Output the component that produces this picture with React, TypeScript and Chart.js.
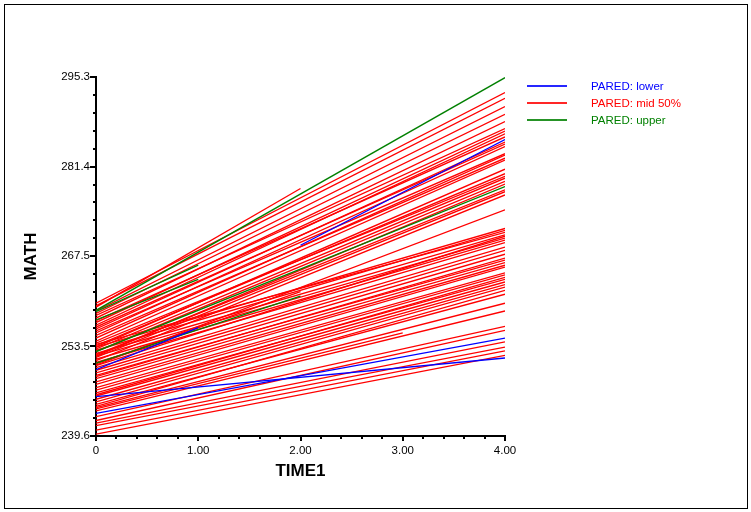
import React, { useEffect, useRef } from "react";
import { Chart, registerables } from "chart.js";

Chart.register(...registerables);

// Each trajectory: [startTime, startMath, endTime, endMath]
type Segment = [number, number, number, number];

const redLines: Segment[] = [
  // steep upper band
  [0, 260.2, 4, 292.9],
  [0, 259.8, 4, 292.0],
  [0, 259.0, 4, 290.7],
  [0, 258.6, 4, 289.5],
  [0, 257.9, 4, 288.4],
  [0, 258.3, 4, 287.3],
  [0, 257.2, 4, 286.9],
  [0, 256.8, 4, 286.5],
  [0, 257.5, 4, 286.0],
  [0, 256.5, 4, 284.9],
  [0, 256.2, 4, 285.2],
  [0, 255.6, 4, 284.5],
  [0, 255.9, 4, 283.4],
  [0, 254.8, 4, 283.2],
  [0, 255.2, 4, 282.7],
  [0, 254.3, 4, 282.4],
  [0, 253.4, 4, 281.0],
  [0, 253.6, 4, 280.3],
  [0, 254.0, 4, 279.9],
  [0, 253.1, 4, 279.6],
  [0, 252.7, 4, 279.1],
  [0, 252.0, 4, 278.7],
  [0, 252.2, 4, 277.8],
  [0, 251.8, 4, 277.5],
  [0, 251.3, 4, 277.0],
  [0, 250.6, 4, 274.7],
  // shorter series
  [0, 259.6, 2, 278.0],
  [0, 250.8, 2, 262.0],
  [0, 243.8, 3, 255.6],
  // middle band
  [0, 253.4, 4, 271.8],
  [0, 252.9, 4, 271.5],
  [0, 253.8, 4, 271.2],
  [0, 252.4, 4, 270.8],
  [0, 250.5, 4, 270.6],
  [0, 252.0, 4, 270.3],
  [0, 251.5, 4, 270.0],
  [0, 251.0, 4, 269.6],
  [0, 250.2, 4, 268.9],
  [0, 249.8, 4, 268.4],
  [0, 249.4, 4, 267.8],
  [0, 248.8, 4, 267.2],
  [0, 249.0, 4, 266.9],
  [0, 248.5, 4, 266.5],
  [0, 248.0, 4, 266.1],
  [0, 247.6, 4, 265.8],
  [0, 247.1, 4, 264.9],
  [0, 246.7, 4, 264.6],
  [0, 246.0, 4, 264.2],
  [0, 246.3, 4, 263.9],
  [0, 245.8, 4, 263.5],
  [0, 245.3, 4, 263.1],
  [0, 244.9, 4, 262.7],
  [0, 244.2, 4, 262.2],
  [0, 244.5, 4, 261.6],
  [0, 244.0, 4, 260.2],
  [0, 243.5, 4, 259.0],
  // shallow lower band
  [0, 242.6, 4, 256.6],
  [0, 242.0, 4, 256.0],
  [0, 241.6, 4, 254.2],
  [0, 241.2, 4, 253.4],
  [0, 240.5, 4, 252.8],
  [0, 239.9, 4, 252.1],
];

const greenLines: Segment[] = [
  [0, 259.1, 4, 295.2],
  [0, 258.9, 1, 266.1],
  [0, 257.6, 1, 263.9],
  [0, 252.7, 4, 278.3],
  [0, 250.9, 2, 261.3],
];

const blueLines: Segment[] = [
  [0, 249.9, 1, 256.4],
  [2, 269.2, 4, 285.6],
  [0, 243.1, 4, 254.8],
  [0, 245.7, 4, 251.7],
];

const xTicks = [0, 1, 2, 3, 4];
const yTicks = [239.6, 253.5, 267.5, 281.4, 295.3];

const legendItems = [
  { label: "PARED: lower", color: "#0000ff" },
  { label: "PARED: mid 50%", color: "#ff0000" },
  { label: "PARED: upper", color: "#008000" },
];

const FONT = "'Liberation Sans', Arial, Helvetica, sans-serif";

// Draws the outward major/minor tick marks along both axes
const axisTickMarks = {
  id: "axisTickMarks",
  afterDraw(chart: any) {
    const { ctx } = chart;
    const xs = chart.scales.x;
    const ys = chart.scales.y;
    ctx.save();
    ctx.strokeStyle = "#000";
    ctx.lineWidth = 2;
    const axisX = xs.left;
    const axisY = ys.bottom;
    for (let i = 0; i < yTicks.length; i++) {
      const v = yTicks[i];
      const py = Math.round(ys.getPixelForValue(v));
      ctx.beginPath();
      ctx.moveTo(axisX - 6, py);
      ctx.lineTo(axisX, py);
      ctx.stroke();
      if (i < yTicks.length - 1) {
        const step = (yTicks[i + 1] - v) / 5;
        for (let k = 1; k < 5; k++) {
          const my = Math.round(ys.getPixelForValue(v + step * k));
          ctx.beginPath();
          ctx.moveTo(axisX - 3, my);
          ctx.lineTo(axisX, my);
          ctx.stroke();
        }
      }
    }
    for (let i = 0; i < xTicks.length; i++) {
      const v = xTicks[i];
      const px = Math.round(xs.getPixelForValue(v));
      ctx.beginPath();
      ctx.moveTo(px, axisY);
      ctx.lineTo(px, axisY + 5);
      ctx.stroke();
      if (i < xTicks.length - 1) {
        const step = (xTicks[i + 1] - v) / 5;
        for (let k = 1; k < 5; k++) {
          const mx = Math.round(xs.getPixelForValue(v + step * k));
          ctx.beginPath();
          ctx.moveTo(mx, axisY);
          ctx.lineTo(mx, axisY + 3);
          ctx.stroke();
        }
      }
    }
    ctx.restore();
  },
};

function toDatasets(lines: Segment[], color: string) {
  return lines.map((s) => ({
    data: [
      { x: s[0], y: s[1] },
      { x: s[2], y: s[3] },
    ],
    borderColor: color,
    backgroundColor: color,
    borderWidth: 1.3,
    pointRadius: 0,
    showLine: true,
    fill: false,
    tension: 0,
  }));
}

export default function App() {
  const canvasRef = useRef<HTMLCanvasElement | null>(null);

  useEffect(() => {
    if (!canvasRef.current) return;
    const chart = new Chart(canvasRef.current, {
      type: "scatter",
      data: {
        datasets: [
          ...toDatasets(blueLines, "#0000ff"),
          ...toDatasets(greenLines, "#008000"),
          ...toDatasets(redLines, "#ff0000"),
        ],
      },
      plugins: [axisTickMarks],
      options: {
        responsive: false,
        animation: false,
        devicePixelRatio: 1,
        layout: { padding: { left: 0, top: 77, right: 246, bottom: 0 } },
        plugins: {
          legend: { display: false },
          tooltip: { enabled: false },
        },
        scales: {
          x: {
            type: "linear",
            min: 0,
            max: 4,
            afterBuildTicks: (s: any) => {
              s.ticks = xTicks.map((v) => ({ value: v }));
            },
            afterFit: (s: any) => {
              s.height = 76;
            },
            ticks: {
              autoSkip: false,
              maxRotation: 0,
              padding: 8,
              color: "#000",
              font: { family: FONT, size: 11.5 },
              callback: (v: any) => (Number(v) === 0 ? "0" : Number(v).toFixed(2)),
            },
            grid: { display: false, drawTicks: false },
            border: { display: true, color: "#000", width: 2 },
            title: {
              display: true,
              text: "TIME1",
              color: "#000",
              font: { family: FONT, size: 17, weight: "bold" },
              padding: { top: 0, bottom: 30 },
            },
          },
          y: {
            type: "linear",
            min: 239.6,
            max: 295.3,
            afterBuildTicks: (s: any) => {
              s.ticks = yTicks.map((v) => ({ value: v }));
            },
            afterFit: (s: any) => {
              s.width = 96;
            },
            ticks: {
              autoSkip: false,
              padding: 6,
              color: "#000",
              font: { family: FONT, size: 11.5 },
              callback: (v: any) => Number(v).toFixed(1),
            },
            grid: { display: false, drawTicks: false },
            border: { display: true, color: "#000", width: 2 },
            title: {
              display: true,
              text: "MATH",
              color: "#000",
              font: { family: FONT, size: 17, weight: "bold" },
              padding: { top: 21, bottom: 0 },
            },
          },
        },
      } as any,
    });
    return () => chart.destroy();
  }, []);

  return (
    <div
      style={{
        position: "fixed",
        left: 0,
        top: 0,
        width: 751,
        height: 512,
        background: "#fff",
        overflow: "hidden",
      }}
    >
      <canvas ref={canvasRef} width={751} height={512} style={{ position: "absolute", left: 0, top: 0 }} />
      <div
        style={{
          position: "absolute",
          left: 4,
          top: 4,
          width: 742,
          height: 503,
          border: "1px solid #000",
          pointerEvents: "none",
        }}
      />
      {legendItems.map((item, i) => (
        <div key={item.label}>
          <div
            style={{
              position: "absolute",
              left: 527,
              top: 85 + i * 17,
              width: 40,
              height: 2,
              background: item.color,
              opacity: 0.85,
            }}
          />
          <div
            style={{
              position: "absolute",
              left: 591,
              top: 79 + i * 17,
              fontFamily: FONT,
              fontSize: 11.5,
              lineHeight: "14px",
              color: item.color,
              whiteSpace: "nowrap",
            }}
          >
            {item.label}
          </div>
        </div>
      ))}
    </div>
  );
}
